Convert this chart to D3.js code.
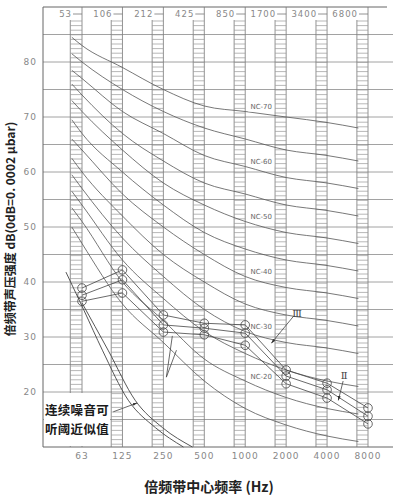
<!DOCTYPE html>
<html>
<head>
<meta charset="utf-8">
<script src="https://cdn.jsdelivr.net/npm/d3@7/dist/d3.min.js"></script>
<style>
  body { margin: 0; background: #fff; }
  svg { display: block; }
</style>
</head>
<body>
<script>
'use strict';

// octave band edges (top) and centre frequencies (bottom)
var bandEdges   = [53, 106, 212, 425, 850, 1700, 3400, 6800];
var centerFreqs = [63, 125, 250, 500, 1000, 2000, 4000, 8000];
var dbTicks     = [20, 30, 40, 50, 60, 70, 80];
var gridDb      = [15, 20, 25, 30, 35, 40, 45, 50, 55, 60, 65, 70, 75, 80, 85];

// NC curves
var ncFreqs = [53, 63, 125, 250, 500, 1000, 2000, 4000, 6800];
var ncNames = ['NC-70', 'NC-65', 'NC-60', 'NC-55', 'NC-50', 'NC-45',
               'NC-40', 'NC-35', 'NC-30', 'NC-25', 'NC-20', 'NC-15'];
var ncLevels = [
  [84.5, 83, 79, 75, 72, 71, 70, 69, 68],
  [81.5, 80, 75, 71, 68, 66, 64, 63, 62],
  [78.5, 77, 71, 67, 63, 61, 59, 58, 57],
  [76,   74, 67, 62, 58, 56, 54, 53, 52],
  [73,   71, 64, 58, 54, 51, 49, 48, 47],
  [69.5, 67, 60, 54, 49, 46, 44, 43, 42],
  [66,   64, 56, 50, 45, 41, 39, 38, 37],
  [62.5, 60, 52, 45, 40, 36, 34, 33, 32],
  [59.5, 57, 48, 41, 35, 31, 29, 28, 27],
  [56.5, 54, 44, 37, 31, 27, 24, 22, 21],
  [53.5, 51, 40, 33, 26, 22, 19, 17, 16],
  [50,   47, 36, 29, 22, 17, 14, 12, 11]
];
var ncLabelled = ['NC-70', 'NC-60', 'NC-50', 'NC-40', 'NC-30', 'NC-20'];

// measured spectra
var spectrum1 = [38.9, 42.2, 34.0, 32.5, 32.2, 24.0, 21.6, 17.1];
var spectrum2 = [37.6, 40.4, 32.2, 31.6, 30.7, 22.9, 20.4, 15.6];
var spectrum3 = [36.5, 38.0, 30.9, 30.4, 28.5, 21.5, 18.9, 14.2];

// approximate threshold of hearing (two lines)
var thresholdFreqsA = [48, 65, 89, 138, 219, 351];
var thresholdA      = [41.8, 34.9, 27.6, 18.5, 13.5, 10];
var thresholdFreqsB = [63, 98, 155, 247, 409];
var thresholdB      = [36.2, 27.6, 18.5, 13.5, 10];

var width = 393, height = 500;
var plotLeft = 43, plotRight = 393, plotTop = 7, plotBottom = 447;

var x = d3.scaleLog().domain([63, 8000]).range([82, 368]);
var y = d3.scaleLinear().domain([10, 90]).range([plotBottom, plotTop]);

var svg = d3.select('body').append('svg')
    .attr('width', width)
    .attr('height', height);

svg.append('rect')
    .attr('width', width)
    .attr('height', height)
    .attr('fill', '#fff');

var ink = '#555';

{ // FRAME + GRID
  svg.append('g').selectAll('line')
      .data(gridDb)
      .enter().append('line')
      .attr('x1', plotLeft).attr('x2', plotRight)
      .attr('y1', function(d) {return y(d);})
      .attr('y2', function(d) {return y(d);})
      .attr('stroke', '#8a8a8a')
      .attr('stroke-width', 0.8);

  svg.append('path')
      .attr('d', 'M' + (plotRight - 6) + ',' + plotTop + 'H' + plotLeft + 'V' + plotBottom + 'H' + plotRight)
      .attr('fill', 'none')
      .attr('stroke', '#666')
      .attr('stroke-width', 1);
}

{ // HATCHED BAND COLUMNS
  var cols = svg.append('g').selectAll('g')
      .data(bandEdges.map(function(e, i) {return {edge: e, center: centerFreqs[i]};}))
      .enter().append('g');

  cols.each(function(d) {
    var g = d3.select(this);
    var x0 = x(d.edge) - 1.5, x1 = x(d.center);
    g.append('line')
        .attr('x1', x0).attr('x2', x0)
        .attr('y1', 20).attr('y2', plotBottom)
        .attr('stroke', '#777').attr('stroke-width', 0.8);
    g.append('line')
        .attr('x1', x1).attr('x2', x1)
        .attr('y1', plotTop).attr('y2', plotBottom)
        .attr('stroke', '#777').attr('stroke-width', 0.8);
    g.selectAll('.hatch')
        .data(d3.range(21, plotBottom, 4.6))
        .enter().append('line')
        .attr('class', 'hatch')
        .attr('x1', x0).attr('x2', x1)
        .attr('y1', function(v) {return v;})
        .attr('y2', function(v) {return v;})
        .attr('stroke', '#999')
        .attr('stroke-width', 0.7);
    // top label with dash
    g.append('text')
        .attr('x', x1 - 10)
        .attr('y', 17)
        .attr('text-anchor', 'end')
        .attr('fill', '#888')
        .style('font', '8.5px "DejaVu Sans"')
        .style('letter-spacing', '1px')
        .text(d.edge);
    g.append('line')
        .attr('x1', x1 - 9).attr('x2', x1)
        .attr('y1', 14).attr('y2', 14)
        .attr('stroke', '#777').attr('stroke-width', 0.8);
  });
}

{ // AXIS LABELS
  svg.append('g').selectAll('text')
      .data(dbTicks)
      .enter().append('text')
      .attr('x', 37)
      .attr('y', function(d) {return y(d) + 3;})
      .attr('text-anchor', 'end')
      .attr('fill', '#888')
      .style('font', '9px "DejaVu Sans"')
      .style('letter-spacing', '1px')
      .text(function(d) {return d;});

  svg.append('g').selectAll('text')
      .data(centerFreqs)
      .enter().append('text')
      .attr('x', function(d) {return x(d);})
      .attr('y', 459)
      .attr('text-anchor', 'middle')
      .attr('fill', '#888')
      .style('font', '9px "DejaVu Sans"')
      .style('letter-spacing', '1px')
      .text(function(d) {return d;});

  svg.append('text')
      .attr('transform', 'translate(15,229) rotate(-90)')
      .attr('text-anchor', 'middle')
      .attr('fill', '#222')
      .style('font', 'bold 12px "Noto Sans CJK SC"')
      .style('white-space', 'pre')
      .text('倍频带声压强度 dB(0dB=0. 0002 μbar)');

  svg.append('text')
      .attr('x', 209)
      .attr('y', 492)
      .attr('text-anchor', 'middle')
      .attr('fill', '#222')
      .style('font', 'bold 14px "Noto Sans CJK SC"')
      .text('倍频带中心频率 (Hz)');
}

var curve = d3.line()
    .x(function(d) {return x(d[0]);})
    .y(function(d) {return y(d[1]);})
    .curve(d3.curveMonotoneX);

{ // NC CURVES
  svg.append('g').selectAll('path')
      .data(ncLevels)
      .enter().append('path')
      .attr('d', function(levels) {
        return curve(levels.map(function(v, i) {return [ncFreqs[i], v];}));
      })
      .attr('fill', 'none')
      .attr('stroke', ink)
      .attr('stroke-width', 0.8);

  var labels = svg.append('g').selectAll('g')
      .data(ncLabelled)
      .enter().append('g')
      .attr('transform', function(name) {
        var v = ncLevels[ncNames.indexOf(name)][ncFreqs.indexOf(1000)];
        return 'translate(' + (x(1000) + 16) + ',' + (y(v) - 5) + ')';
      });
  labels.append('rect')
      .attr('x', -13).attr('y', -5)
      .attr('width', 26).attr('height', 10)
      .attr('fill', '#fff');
  labels.append('text')
      .attr('y', 2.5)
      .attr('text-anchor', 'middle')
      .attr('fill', '#666')
      .style('font', '7px "DejaVu Sans"')
      .text(function(d) {return d;});
}

{ // THRESHOLD CURVES
  [[thresholdFreqsA, thresholdA], [thresholdFreqsB, thresholdB]].forEach(function(t) {
    svg.append('path')
        .attr('d', curve(t[0].map(function(f, i) {return [f, t[1][i]];})))
        .attr('fill', 'none')
        .attr('stroke', '#444')
        .attr('stroke-width', 0.9);
  });
}

{ // MEASURED SPECTRA
  var straight = d3.line()
      .x(function(d) {return x(d[0]);})
      .y(function(d) {return y(d[1]);});

  [spectrum1, spectrum2, spectrum3].forEach(function(s) {
    var pts = s.map(function(v, i) {return [centerFreqs[i], v];});
    svg.append('path')
        .attr('d', straight(pts))
        .attr('fill', 'none')
        .attr('stroke', '#444')
        .attr('stroke-width', 0.8);
    svg.append('g').selectAll('circle')
        .data(pts)
        .enter().append('circle')
        .attr('cx', function(d) {return x(d[0]);})
        .attr('cy', function(d) {return y(d[1]);})
        .attr('r', 4.3)
        .attr('fill', 'none')
        .attr('stroke', '#444')
        .attr('stroke-width', 0.8);
  });
}

{ // ANNOTATIONS
  svg.append('defs').append('marker')
      .attr('id', 'arrow')
      .attr('viewBox', '0 0 10 10')
      .attr('refX', 9).attr('refY', 5)
      .attr('markerWidth', 6).attr('markerHeight', 6)
      .attr('orient', 'auto')
    .append('path')
      .attr('d', 'M0,2L10,5L0,8z')
      .attr('fill', '#333');

  function leader(a, b, arrow) {
    var l = svg.append('line')
        .attr('x1', x(a[0])).attr('y1', y(a[1]))
        .attr('x2', x(b[0])).attr('y2', y(b[1]))
        .attr('stroke', '#444')
        .attr('stroke-width', 0.8);
    if (arrow) l.attr('marker-end', 'url(#arrow)');
  }

  leader([2270, 33.8], [1560, 28.9], true);
  leader([5250, 22.0], [4840, 18.5], true);
  leader([263, 22.7], [291, 30.2], false);
  leader([263, 22.7], [312, 27.6], false);

  svg.append('text')
      .attr('x', x(2410)).attr('y', y(34.4) + 4)
      .attr('text-anchor', 'middle')
      .attr('fill', '#444')
      .style('font', '10px "DejaVu Serif"')
      .text('Ⅲ');
  svg.append('text')
      .attr('x', x(5350)).attr('y', y(23.1) + 4)
      .attr('text-anchor', 'middle')
      .attr('fill', '#444')
      .style('font', '10px "DejaVu Serif"')
      .text('Ⅱ');

  // threshold label box
  svg.append('rect')
      .attr('x', plotLeft + 1).attr('y', y(20) + 1)
      .attr('width', 66).attr('height', plotBottom - y(20) - 2)
      .attr('fill', '#fff');
  svg.append('text')
      .attr('x', 45).attr('y', 415)
      .attr('fill', '#1a1a1a')
      .style('font', 'bold 12.5px "Noto Sans CJK SC"')
      .style('letter-spacing', '0.3px')
      .text('连续噪音可');
  svg.append('text')
      .attr('x', 45).attr('y', 434)
      .attr('fill', '#1a1a1a')
      .style('font', 'bold 12.5px "Noto Sans CJK SC"')
      .style('letter-spacing', '0.3px')
      .text('听阈近似值');
  leader([107, 16.4], [160, 18.0], true);
}
</script>
</body>
</html>
